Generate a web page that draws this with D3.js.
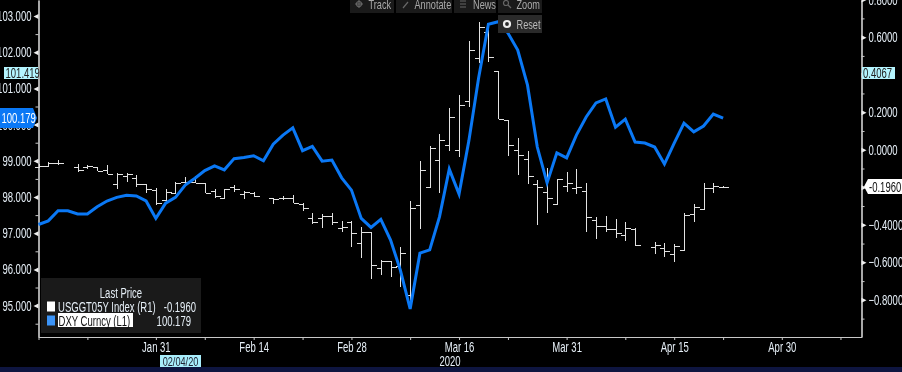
<!DOCTYPE html>
<html><head><meta charset="utf-8">
<script src="https://cdnjs.cloudflare.com/ajax/libs/d3/7.8.5/d3.min.js"></script>
<style>
html,body{margin:0;padding:0;background:#000;overflow:hidden}
svg{display:block;filter:blur(0.35px)}
text{font-family:"Liberation Sans",sans-serif;}
</style></head><body>
<svg id="c" width="902" height="372"></svg>
<script>
const dxy=[97.24,97.34,97.62,97.62,97.53,97.53,97.73,97.89,97.99,98.05,98.03,97.89,97.41,97.83,97.99,98.33,98.52,98.73,98.86,98.75,99.06,99.09,99.14,99.00,99.46,99.71,99.91,99.28,99.40,98.99,99.02,98.53,98.19,97.41,97.16,97.38,96.81,95.98,94.91,96.45,96.54,97.45,98.77,98.08,99.55,101.29,102.77,102.84,102.53,102.06,101.09,99.38,98.39,99.22,99.08,99.71,100.21,100.60,100.71,99.93,100.15,99.52,99.49,99.38,98.91,99.49,100.04,99.80,99.96,100.29,100.179];
const yOpen=[-0.091,-0.085,-0.071,null,-0.092,-0.094,-0.094,-0.108,-0.181,-0.139,-0.149,-0.184,-0.215,-0.268,-0.232,-0.174,-0.171,-0.176,-0.219,-0.257,-0.200,-0.236,-0.232,null,-0.256,-0.259,-0.259,-0.289,-0.362,-0.366,-0.352,-0.419,-0.385,-0.499,-0.440,-0.632,-0.593,-0.618,-0.775,-0.297,-0.197,-0.055,0.027,-0.002,0.260,0.487,0.629,0.420,0.158,-0.002,-0.050,-0.184,-0.224,-0.289,-0.192,-0.206,-0.220,-0.375,-0.408,-0.424,-0.456,-0.423,null,-0.517,-0.522,-0.556,-0.533,-0.343,-0.318,-0.206,-0.200];
const yClose=[-0.085,-0.069,-0.071,null,-0.108,-0.085,-0.112,-0.131,-0.128,-0.130,-0.184,-0.209,-0.286,-0.227,-0.178,-0.171,-0.176,-0.229,-0.245,-0.209,-0.211,-0.224,-0.247,null,-0.263,-0.259,-0.283,-0.312,-0.384,-0.352,-0.384,-0.410,-0.442,-0.437,-0.615,-0.593,-0.624,-0.549,-0.312,-0.107,0.007,0.052,0.173,0.238,0.531,0.656,0.496,0.162,0.027,-0.027,-0.139,-0.197,-0.257,-0.156,-0.178,-0.201,-0.360,-0.408,-0.424,-0.446,-0.419,-0.510,null,-0.508,-0.540,-0.513,-0.348,-0.305,-0.206,-0.195,-0.196];
const yHigh=[-0.076,-0.068,-0.055,null,-0.074,-0.082,-0.094,-0.082,-0.126,-0.123,-0.135,-0.184,-0.206,-0.211,-0.174,-0.144,-0.140,-0.176,-0.211,-0.209,-0.187,-0.220,-0.224,null,-0.256,-0.245,-0.243,-0.283,-0.339,-0.344,-0.339,-0.380,-0.382,-0.410,-0.437,-0.588,-0.593,-0.517,-0.272,-0.059,0.021,0.082,0.221,0.292,0.579,0.679,0.670,0.420,0.158,0.061,-0.007,-0.162,-0.096,-0.156,-0.120,-0.104,-0.179,-0.360,-0.352,-0.369,-0.387,-0.419,null,-0.494,-0.499,-0.503,-0.339,-0.291,-0.179,-0.176,-0.193];
const yLow=[-0.098,-0.087,-0.083,null,-0.119,-0.104,-0.114,-0.131,-0.211,-0.171,-0.197,-0.232,-0.295,-0.277,-0.236,-0.188,-0.178,-0.232,-0.259,-0.259,-0.224,-0.264,-0.251,null,-0.289,-0.268,-0.283,-0.325,-0.398,-0.416,-0.401,-0.440,-0.517,-0.576,-0.688,-0.668,-0.677,-0.730,-0.844,-0.421,-0.197,-0.232,-0.005,-0.037,0.229,0.461,0.469,0.162,-0.034,-0.135,-0.184,-0.401,-0.339,-0.289,-0.227,-0.236,-0.437,-0.476,-0.440,-0.472,-0.487,-0.513,null,-0.558,-0.572,-0.600,-0.533,-0.387,-0.318,-0.232,-0.203];

const xMajorIdx=[12,22,32,43,54,65,76];
const xMajorLabels=["Jan 31","Feb 14","Feb 28","Mar 16","Mar 31","Apr 15","Apr 30"];
const xMinorIdx=[0,5,17,27,38,48,60,70,82];
const leftMajor=[95,96,97,98,99,100,101,102,103];
const leftMinor=[94.5,95.5,96.5,97.5,98.5,99.5,100.5,101.5,102.5];
const rightMajor=[-0.8,-0.6,-0.4,-0.2,0,0.2,0.4,0.6,0.8];
const rightCovered=[-0.2,0.4];
const rightMinor=[-0.9,-0.7,-0.5,-0.3,-0.1,0.1,0.3,0.5,0.7];
const toolbarItems=["Track","Annotate","News","Zoom"];

const svg=d3.select("#c");
const W=902,H=372,L=38.5,R=861.5,B=337;
const x=d3.scaleLinear().domain([0,84.15]).range([L,R]);
const yL=d3.scaleLinear().domain([94.133,103.442]).range([B,0]);
const yR=d3.scaleLinear().domain([-0.998,0.798]).range([B,0]);
const labelCol="#e6eff7", axisCol="#c8c8c8", FF='"Liberation Sans",sans-serif';

svg.append("rect").attr("width",W).attr("height",H).attr("fill","#000");
svg.append("rect").attr("y",367).attr("width",W).attr("height",5).attr("fill","#0e1540");

function axisStyle(g){
  g.select(".domain").attr("stroke",axisCol).attr("stroke-width",1.2);
  g.selectAll("line").attr("stroke",axisCol);
  g.selectAll("text").attr("fill",labelCol).attr("font-size",14).style("font-family",FF);
}
const tri=(g,dir)=>{
  g.selectAll(".tick line").remove();
  g.selectAll(".tick").append("path").attr("d",dir<0?"M0,-2.5L-5,0L0,2.5Z":"M0,-2.5L5,0L0,2.5Z").attr("fill","#eee");
};
svg.append("g").attr("transform",`translate(${L},0)`).call(d3.axisLeft(yL).tickValues(leftMinor).tickSize(3).tickFormat("").tickSizeOuter(0)).call(axisStyle);
svg.append("g").attr("transform",`translate(${R},0)`).call(d3.axisRight(yR).tickValues(rightMinor).tickSize(3).tickFormat("").tickSizeOuter(0)).call(axisStyle);
svg.append("g").attr("transform",`translate(0,${B})`).call(d3.axisBottom(x).tickValues(xMinorIdx).tickSize(3).tickFormat("").tickSizeOuter(0)).call(axisStyle);
svg.append("g").attr("transform",`translate(${L},0)`).call(d3.axisLeft(yL).tickValues(leftMajor).tickSize(5).tickPadding(2).tickFormat(d3.format(".3f")).tickSizeOuter(0)).call(axisStyle).call(g=>tri(g,-1));
svg.append("g").attr("transform",`translate(${R},0)`).call(d3.axisRight(yR).tickValues(rightMajor).tickSize(5).tickPadding(2).tickFormat(d=>rightCovered.includes(d)?"":d3.format(".4f")(d)).tickSizeOuter(0)).call(axisStyle).call(g=>tri(g,1));
svg.append("g").attr("transform",`translate(0,${B})`).call(d3.axisBottom(x).tickValues(xMajorIdx).tickSize(3).tickPadding(2).tickFormat((d,i)=>xMajorLabels[i]).tickSizeOuter(0)).call(axisStyle);

const idx=d3.range(dxy.length).filter(i=>yHigh[i]!==null);
const bars=svg.append("g").attr("stroke","#e2e2e2").attr("stroke-width",1).attr("fill","none").attr("shape-rendering","crispEdges");
const px=i=>Math.round(x(i))+0.5;
bars.selectAll("path").data(idx).join("path").attr("d",i=>{
  const X=px(i);
  return `M${X},${Math.round(yR(yHigh[i]))}V${Math.round(yR(yLow[i]))}`+
         `M${X-5},${Math.round(yR(yOpen[i]))+0.5}H${X}`+
         `M${X},${Math.round(yR(yClose[i]))+0.5}H${X+5}`;
});
svg.append("path").datum(dxy).attr("fill","none").attr("stroke","#0a78f5").attr("stroke-width",3).attr("stroke-linejoin","miter")
  .attr("d",d3.line().x((d,i)=>x(i)).y(d=>yL(d)));

function box(xp,yp,w,h,fill){svg.append("rect").attr("x",xp).attr("y",yp).attr("width",w).attr("height",h).attr("fill",fill);}
function txt(s,xp,yp,fill,anchor,size){return svg.append("text").attr("x",xp).attr("y",yp).attr("fill",fill).attr("text-anchor",anchor||"start").attr("font-size",size||14).text(s);}
box(4,67,34,12,"#b4f5ff"); txt("101.419",5.5,78,"#222");
box(862,67,33,12,"#b4f5ff"); txt("0.4067",863,78,"#222");
svg.append("path").attr("d","M0,108H33L37,118L33,128H0Z").attr("fill","#0a78f5");
txt("100.179",1.5,123,"#fff");
svg.append("path").attr("d","M868,179H902V194H868L864,186.5Z").attr("fill","#fff");
txt("-0.1960",869,191.5,"#111");

const tbX=[350,396,454,498], tbW=[44,56,42,44], tbT=[368.5,414.5,473,516.5];
toolbarItems.forEach((t,i)=>{
  box(tbX[i],0,tbW[i],13,"#1a1a1a");
  txt(t,tbT[i],9,"#aaa","start",13.5);
});
const ic=svg.append("g").attr("stroke","#666").attr("fill","none").attr("stroke-width",1.2);
ic.append("circle").attr("cx",359).attr("cy",4).attr("r",2.5);
ic.append("path").attr("d","M355,4H363M359,0V8M403,8L408,2M460,1H466M460,4H466M460,7H466");
ic.append("circle").attr("cx",506).attr("cy",3).attr("r",2.5);
ic.append("path").attr("d","M508,5L511,8");
box(498,15,44,18,"#2a2a2a");
svg.append("circle").attr("cx",507).attr("cy",24).attr("r",3).attr("fill","none").attr("stroke","#eee").attr("stroke-width",2.2);
txt("Reset",516.5,28.5,"#bbb","start",13.5);

box(41,278,160,55,"#1a1a1a");
txt("Last Price",121,298,"#e6eff7","middle");
box(47,301.5,8,10,"#fff");
box(47,315.5,8,10,"#3b94f8");
txt("USGGT05Y Index  (R1)",58,312,"#e6eff7","start");
txt("-0.1960",196,312,"#e6eff7","end");
box(58,313,75,14,"#fff");
txt("DXY Curncy  (L1)",58.5,326,"#111","start");
txt("100.179",191,326,"#e6eff7","end");

box(160,355,41,12,"#a8eefc");
txt("02/04/20",180.5,365.5,"#223","middle",13.5);
txt("2020",450,366,labelCol,"middle");

// the terminal's typeface is condensed: narrow every label to its measured width
svg.selectAll("text").each(function(){
  const n=this.getComputedTextLength();
  if(n>0){ d3.select(this).attr("textLength",n*0.68).attr("lengthAdjust","spacingAndGlyphs"); }
});
</script>
</body></html>
